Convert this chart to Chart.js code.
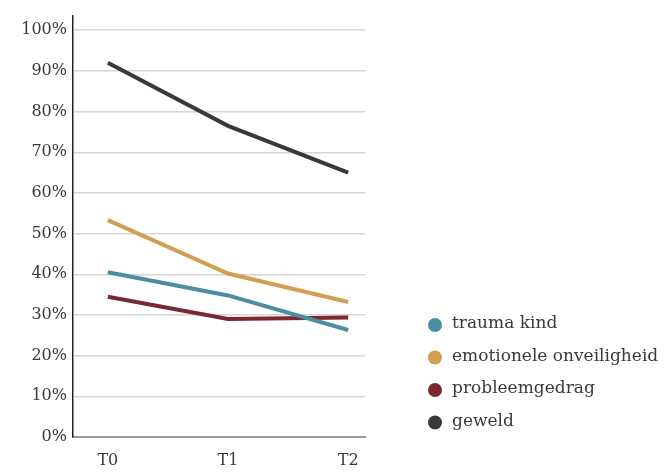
<!DOCTYPE html>
<html>
<head>
<meta charset="utf-8">
<script src="https://cdn.jsdelivr.net/npm/chart.js@4/dist/chart.umd.min.js"></script>
<style>
  html, body { margin: 0; padding: 0; background: #fff; }
  #wrap { width: 664px; height: 475px; position: relative; }
</style>
</head>
<body>
<div id="wrap"><canvas id="chart" width="664" height="475"></canvas></div>
<script>
const timePoints = ["T0", "T1", "T2"];
const yTicks = [0, 10, 20, 30, 40, 50, 60, 70, 80, 90, 100];

const traumaKind = [40.5, 34.8, 26.3];
const emotioneleOnveiligheid = [53.3, 40.2, 33.2];
const probleemgedrag = [34.5, 29.0, 29.4];
const geweld = [92.0, 76.5, 65.0];

const series = [
  { label: "trauma kind", values: traumaKind, color: "#4b8ea3" },
  { label: "emotionele onveiligheid", values: emotioneleOnveiligheid, color: "#d19e54" },
  { label: "probleemgedrag", values: probleemgedrag, color: "#7a2a2f" },
  { label: "geweld", values: geweld, color: "#393939" }
];

const serif = "'DejaVu Serif', 'Liberation Serif', serif";

// legend drawn beside the plot, lower right
const sideLegend = {
  id: "sideLegend",
  afterDraw(chart) {
    const ctx = chart.ctx;
    ctx.save();
    ctx.font = "17px " + serif;
    ctx.textBaseline = "middle";
    ctx.textAlign = "left";
    chart.data.datasets.forEach((ds, i) => {
      const y = 325 + i * 32.5;
      ctx.fillStyle = ds.borderColor;
      ctx.beginPath();
      ctx.arc(435, y, 7, 0, Math.PI * 2);
      ctx.fill();
      ctx.fillStyle = "#3a3a3a";
      ctx.fillText(ds.label, 452, y - 1);
    });
    ctx.restore();
  }
};

new Chart(document.getElementById("chart").getContext("2d"), {
  type: "line",
  data: {
    datasets: series.map(s => ({
      label: s.label,
      data: s.values.map((v, i) => ({ x: i, y: v })),
      borderColor: s.color,
      backgroundColor: s.color,
      borderWidth: 4,
      pointRadius: 0,
      tension: 0,
      borderCapStyle: "butt"
    }))
  },
  options: {
    responsive: false,
    animation: false,
    layout: { padding: { top: 5, right: 299, bottom: 0, left: 0 } },
    plugins: { legend: { display: false }, tooltip: { enabled: false } },
    scales: {
      x: {
        type: "linear",
        min: -0.29,
        max: 2.14,
        afterBuildTicks: s => { s.ticks = timePoints.map((t, i) => ({ value: i })); },
        afterFit: s => { s.height = 38; },
        grid: { display: false, drawTicks: false },
        border: { color: "#9a9a9a", width: 2 },
        ticks: {
          padding: 14,
          color: "#3a3a3a",
          font: { family: serif, size: 16 },
          callback: v => timePoints[v]
        }
      },
      y: {
        min: 0,
        max: 103.6,
        afterBuildTicks: s => { s.ticks = yTicks.map(v => ({ value: v })); },
        afterFit: s => { s.width = 73; },
        grid: { color: "#d6d6d6", lineWidth: 1.5, drawTicks: false },
        border: { color: "#222", width: 1.5 },
        ticks: {
          padding: 6,
          color: "#3a3a3a",
          font: { family: serif, size: 16 },
          callback: v => v + "%"
        }
      }
    }
  },
  plugins: [sideLegend]
});
</script>
</body>
</html>
